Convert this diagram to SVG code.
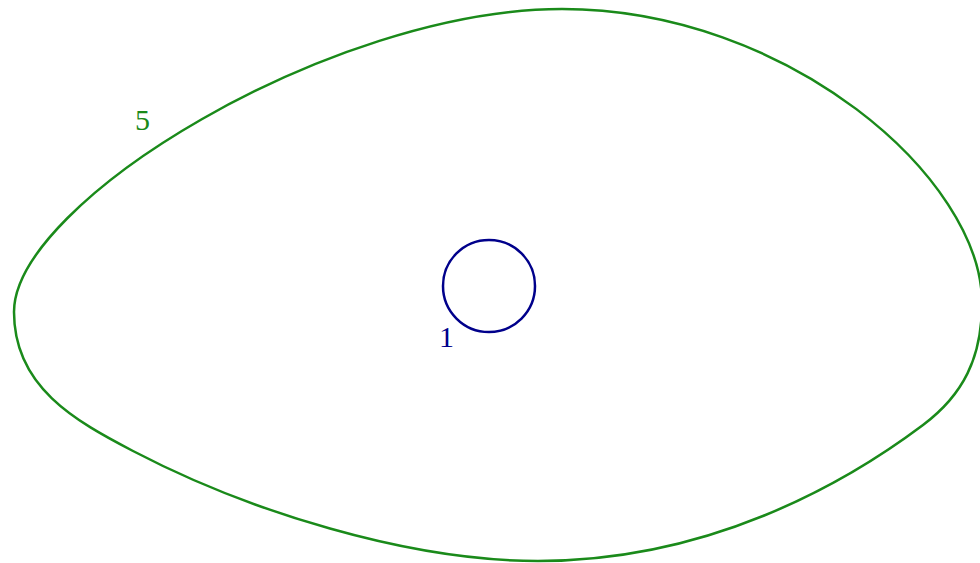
<svg xmlns="http://www.w3.org/2000/svg" width="980" height="563" viewBox="0 0 980 563">
<style>
.lbl{font-family:"Liberation Serif","Times New Roman",serif;font-size:30px}
</style>
<rect width="980" height="563" fill="#ffffff"/>
<g id="curve5">
<path d="M14,312 C14,202 332,9 562,9 C787,9 982,178 982,303 C982,358 963,395 923,425 C843,485 708,561 538,561 C408,561 248.2,511.2 133,451 C75.4,420.9 14,387 14,312 Z" fill="none" stroke="#1a8a1a" stroke-width="2.5"/>
<text class="lbl" x="135" y="130" fill="#1a8a1a">5</text>
</g>
<g id="circle1">
<circle cx="489" cy="286" r="46" fill="none" stroke="#00008b" stroke-width="2.5"/>
<text class="lbl" x="439" y="347" fill="#00008b">1</text>
</g>
<g id="connectors"></g>
</svg>
